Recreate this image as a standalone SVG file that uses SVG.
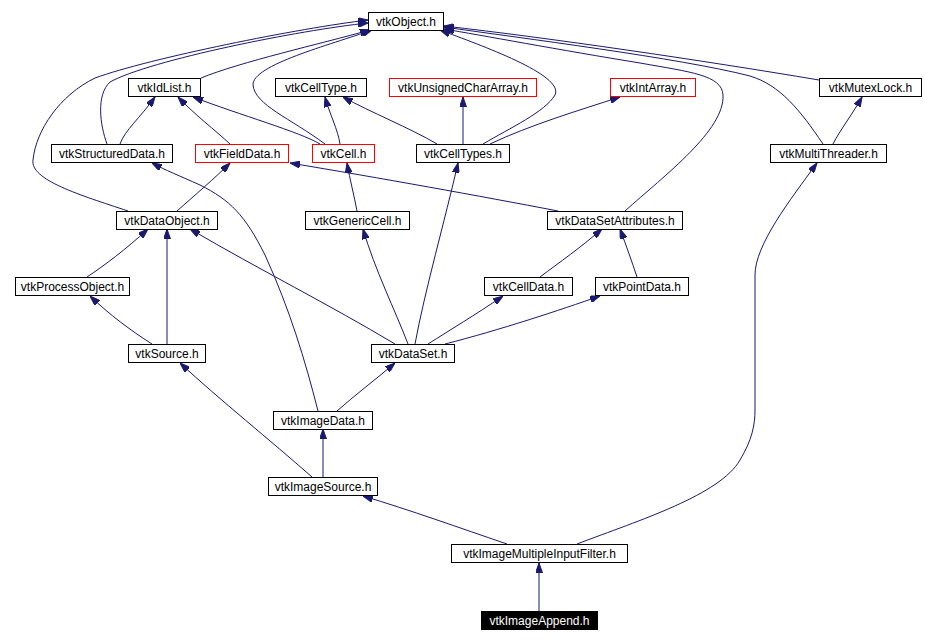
<svg xmlns="http://www.w3.org/2000/svg" width="925" height="642" viewBox="0 0 925 642">
<style>
.n rect{fill:#fff;stroke:#000;stroke-width:1}
.n.r rect{stroke:#f00}
.n.h rect{fill:#000}
.n text{font-family:"Liberation Sans",Arial,sans-serif;font-size:12px;text-anchor:middle;fill:#000}
.n.h text{fill:#fff}
.e path{fill:none;stroke:#191970;stroke-width:1;marker-end:url(#a)}
</style>
<defs>
<marker id="a" viewBox="0 0 10 7" refX="10" refY="3.5" markerWidth="10" markerHeight="7" markerUnits="userSpaceOnUse" orient="auto">
<path d="M0,0 L10,3.5 L0,7 z" fill="#191970" stroke="#191970"/>
</marker>
</defs>
<rect width="925" height="642" fill="#fff"/>
<g id="edges" class="e">
<path d="M201,78 C240,62 320,44 370,30"/>
<path d="M107,144 C100,125 96,95 110,82 C150,60 300,30 368,23"/>
<path d="M128,211 C80,195 30,180 33,160 C36,130 60,95 95,78 C150,58 300,28 368,20"/>
<path d="M325,144 C290,118 255,105 253,85 C252,65 330,45 372,30"/>
<path d="M483,144 C510,128 545,112 555,95 C565,75 480,45 440,30"/>
<path d="M625,211 C665,175 725,130 723,95 C722,75 690,72 640,63 C560,50 480,35 444,29"/>
<path d="M823,144 C800,110 780,85 750,76 C680,58 520,38 444,27"/>
<path d="M819,80 C700,60 550,38 444,26"/>
<path d="M120,144 C125,130 140,118 155,97"/>
<path d="M230,144 C215,130 195,115 178,97"/>
<path d="M320,144 C300,132 240,115 193,97"/>
<path d="M340,144 C338,130 330,115 325,97"/>
<path d="M437,144 C410,128 370,112 343,97"/>
<path d="M463,144 L463,97"/>
<path d="M490,144 C530,125 580,110 620,97"/>
<path d="M833,144 C840,130 852,115 862,97"/>
<path d="M177,211 C195,195 215,178 230,163"/>
<path d="M558,211 C480,196 380,178 290,163"/>
<path d="M357,211 C354,195 350,180 347,163"/>
<path d="M318,411 C305,360 290,310 265,255 C245,215 230,200 200,185 C180,176 165,170 152,163"/>
<path d="M87,277 C105,265 125,250 148,229"/>
<path d="M167,344 L167,229"/>
<path d="M152,344 C130,330 110,315 90,296"/>
<path d="M395,344 C330,305 260,270 190,229"/>
<path d="M408,344 C395,310 375,270 363,229"/>
<path d="M415,344 C425,290 445,220 458,163"/>
<path d="M428,344 C450,330 475,315 503,296"/>
<path d="M445,344 C500,330 560,310 600,296"/>
<path d="M540,277 C560,262 580,248 602,229"/>
<path d="M637,277 C632,262 626,245 620,229"/>
<path d="M337,411 C355,395 375,380 395,363"/>
<path d="M323,477 L323,429"/>
<path d="M312,477 C270,440 220,400 180,363"/>
<path d="M507,544 C460,528 410,510 363,496"/>
<path d="M577,544 C640,520 720,495 740,460 C752,440 755,425 755,410 L755,275 C755,245 790,200 817,163"/>
<path d="M539,611 L539,563"/>
</g>
<g id="vtkObject" class="n"><rect x="368.5" y="12.5" width="75" height="18"/><text x="406" y="26">vtkObject.h</text></g>
<g id="vtkIdList" class="n"><rect x="128.5" y="78.5" width="72" height="18"/><text x="164.5" y="92">vtkIdList.h</text></g>
<g id="vtkCellType" class="n"><rect x="275.5" y="78.5" width="91" height="18"/><text x="321" y="92">vtkCellType.h</text></g>
<g id="vtkUnsignedCharArray" class="n r"><rect x="389.5" y="78.5" width="147" height="18"/><text x="463" y="92">vtkUnsignedCharArray.h</text></g>
<g id="vtkIntArray" class="n r"><rect x="610.5" y="78.5" width="85" height="18"/><text x="653" y="92">vtkIntArray.h</text></g>
<g id="vtkMutexLock" class="n"><rect x="819.5" y="78.5" width="102" height="18"/><text x="870.5" y="92">vtkMutexLock.h</text></g>
<g id="vtkStructuredData" class="n"><rect x="51.5" y="144.5" width="121" height="18"/><text x="112" y="158">vtkStructuredData.h</text></g>
<g id="vtkFieldData" class="n r"><rect x="195.5" y="144.5" width="93" height="18"/><text x="242" y="158">vtkFieldData.h</text></g>
<g id="vtkCell" class="n r"><rect x="312.5" y="144.5" width="62" height="18"/><text x="343.5" y="158">vtkCell.h</text></g>
<g id="vtkCellTypes" class="n"><rect x="416.5" y="144.5" width="93" height="18"/><text x="463" y="158">vtkCellTypes.h</text></g>
<g id="vtkMultiThreader" class="n"><rect x="770.5" y="144.5" width="116" height="18"/><text x="828.5" y="158">vtkMultiThreader.h</text></g>
<g id="vtkDataObject" class="n"><rect x="116.5" y="211.5" width="101" height="18"/><text x="167" y="225">vtkDataObject.h</text></g>
<g id="vtkGenericCell" class="n"><rect x="305.5" y="211.5" width="104" height="18"/><text x="357.5" y="225">vtkGenericCell.h</text></g>
<g id="vtkDataSetAttributes" class="n"><rect x="547.5" y="211.5" width="135" height="18"/><text x="615" y="225">vtkDataSetAttributes.h</text></g>
<g id="vtkProcessObject" class="n"><rect x="15.5" y="277.5" width="114" height="18"/><text x="72.5" y="291">vtkProcessObject.h</text></g>
<g id="vtkCellData" class="n"><rect x="484.5" y="277.5" width="88" height="18"/><text x="528.5" y="291">vtkCellData.h</text></g>
<g id="vtkPointData" class="n"><rect x="595.5" y="277.5" width="93" height="18"/><text x="642" y="291">vtkPointData.h</text></g>
<g id="vtkSource" class="n"><rect x="128.5" y="344.5" width="77" height="18"/><text x="167" y="358">vtkSource.h</text></g>
<g id="vtkDataSet" class="n"><rect x="371.5" y="344.5" width="83" height="18"/><text x="413" y="358">vtkDataSet.h</text></g>
<g id="vtkImageData" class="n"><rect x="273.5" y="411.5" width="99" height="18"/><text x="323" y="425">vtkImageData.h</text></g>
<g id="vtkImageSource" class="n"><rect x="268.5" y="477.5" width="109" height="18"/><text x="323" y="491">vtkImageSource.h</text></g>
<g id="vtkImageMultipleInputFilter" class="n"><rect x="451.5" y="544.5" width="176" height="18"/><text x="539.5" y="558">vtkImageMultipleInputFilter.h</text></g>
<g id="vtkImageAppend" class="n h"><rect x="481.5" y="611.5" width="116" height="18"/><text x="539.5" y="625">vtkImageAppend.h</text></g>
</svg>
